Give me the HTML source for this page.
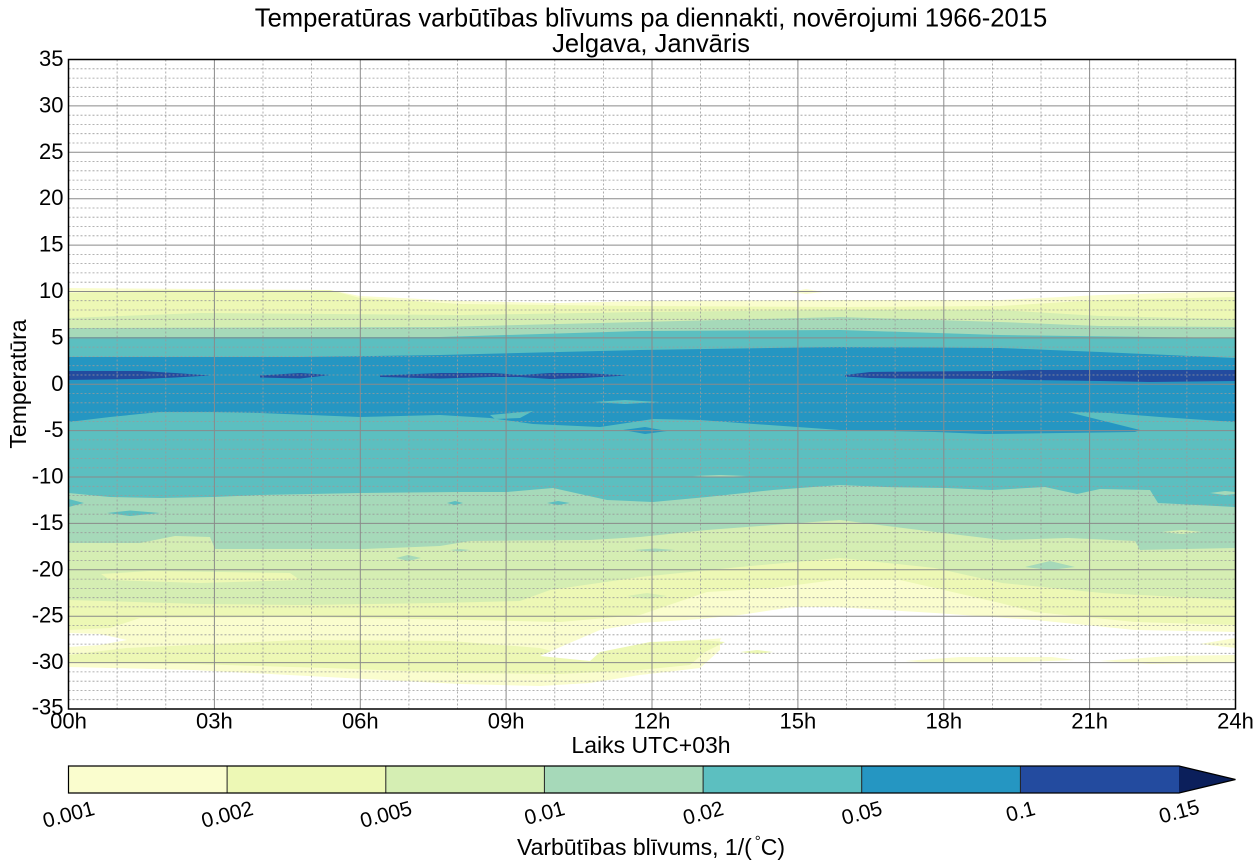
<!DOCTYPE html>
<html>
<head>
<meta charset="utf-8">
<style>
  html, body { margin: 0; padding: 0; background: #ffffff; }
  svg { display: block; }
  text { font-family: "Liberation Sans", Arial, sans-serif; fill: #000; }
</style>
</head>
<body>
<svg width="1260" height="868" viewBox="0 0 1260 868" xmlns="http://www.w3.org/2000/svg">
  <rect x="0" y="0" width="1260" height="868" fill="#ffffff"/>

  <!-- Title -->
  <text x="651" y="26.5" font-size="25.6" text-anchor="middle">Temperatūras varbūtības blīvums pa diennakti, novērojumi 1966-2015</text>
  <text x="651" y="52" font-size="25.6" text-anchor="middle">Jelgava, Janvāris</text>

  <!-- ===== Contour fills ===== -->
  <g stroke="none">
    <!-- c1 : 0.001 - 0.002 -->
    <polygon fill="#fafdce" points="68.5,288 200,289 330,290 360,296 460,301 560,303 640,301 840,300 1000,300 1100,295 1235.5,291 1235.5,632 1135,630 1035,620 935,613 835,607 793,607 740,615 720,640 720,650 700,668 640,675 590,683 540,686 460,684 327,677 193,670 68.5,667"/>
    <polygon fill="#fafdce" points="790,292 806,289 823,292 806,294"/>
    <!-- c2 lower band -->
    <polygon fill="#edf8b5" points="68.5,655 126,648 300,640 450,641 540,648 590,661 600,652 650,642 700,640 725,642 705,652 690,665 640,670 560,674 460,673 327,668 193,664 68.5,662"/>
    <!-- white pockets -->
    <polygon fill="#ffffff" points="540,656 565,645 600,630 640,623 700,619 740,615 725,638 700,640 650,642 600,652 590,661"/>
    <polygon fill="#ffffff" points="68.5,633 100,634 127,640 100,645 68.5,647"/>
    <!-- pale strips in lower white -->
    <polygon fill="#fafdce" points="905,661 960,657 1052,657 1075,660 1000,663 930,663"/>
    <polygon fill="#fafdce" points="1100,661 1170,656 1235.5,655 1235.5,663 1150,664"/>
    <polygon fill="#fafdce" points="1200,644 1235.5,638 1235.5,648"/>
    <polygon fill="#edf8b5" points="740,652 757,650 773,652 757,654"/>

    <!-- c2 main -->
    <polygon fill="#edf8b5" points="68.5,293 150,290 330,290 360,298 460,304 640,306 840,307 1000,306 1100,300 1235.5,297 1235.5,625 1135,622 1035,612 1000,603 935,588 900,580 835,580 773,588 707,592 640,615 560,622 470,620 300,617 140,618 110,628 68.5,630"/>

    <!-- c3 main -->
    <polygon fill="#d5eeb3" points="68.5,318 200,313 460,315 640,312 840,310 1000,310 1100,316 1235.5,319 1235.5,600 1102,593 1002,583 935,568 840,558 740,567 640,577 550,590 520,601 440,603 300,605 200,604 68.5,600"/>
    <polygon fill="#edf8b5" points="101,574 150,571 290,573 300,580 200,583 110,580"/>
    <polygon fill="#d5eeb3" points="627,596 647,593 667,596 647,599"/>

    <!-- c4 main -->
    <polygon fill="#a6d9b9" points="68.5,328 440,327 640,322 840,317 1000,322 1100,326 1235.5,327 1235.5,548 1140,550 1135,541 1068,538 1002,540 935,532 840,520 773,525 707,530 640,537 590,540 470,541 440,546 364,549 215,549 210,537 175,536 140,543 68.5,543"/>
    <polygon fill="#a6d9b9" points="1025,567 1050,561 1075,567 1050,570"/>
    <polygon fill="#a6d9b9" points="396,558 408,555 421,558 408,561"/>
    <polygon fill="#a6d9b9" points="450,550 460,549 470,550 460,551.5"/>
    <polygon fill="#a6d9b9" points="634,550 655,548.5 675,550 655,552"/>
    <polygon fill="#d5eeb3" points="1162,532 1182,530 1202,532 1182,534"/>

    <!-- c5 main -->
    <polygon fill="#5cbfc0" points="68.5,337 440,337 640,331 840,330 1000,335 1235.5,338 1235.5,507 1158,503 1150,490 1100,489 1077,494 1045,487 992,490 945,488 885,487 840,485 773,490 707,497 653,502 607,500 553,488 507,492 460,492 360,493 260,495 213,497 160,498 110,497 68.5,493"/>
    <polygon fill="#5cbfc0" points="68.5,499 84,503 68.5,507"/>
    <polygon fill="#5cbfc0" points="107,513 130,510.5 160,513 130,516"/>
    <polygon fill="#5cbfc0" points="447,503 455,501 463,503 455,505"/>
    <polygon fill="#5cbfc0" points="547,503 558,501 570,503 558,505"/>
    <polygon fill="#a6d9b9" points="1210,493 1225,491 1235.5,492 1235.5,494 1225,495"/>
    <polygon fill="#a6d9b9" points="693,476 720,475 747,476 720,477"/>

    <!-- c6 main -->
    <polygon fill="#2596c2" points="68.5,357 300,357 440,355 640,350 840,347 1000,348 1100,352 1235.5,358 1235.5,422 1160,417 1110,413 1068,412 1140,430 1135,432 985,434 935,432 840,430 740,423 700,420 653,419 600,427 533,424 490,418 440,415 360,417 260,413 210,412 160,412 110,417 68.5,422"/>
    <polygon fill="#5cbfc0" points="593,402 625,400 660,402 625,404"/>
    <polygon fill="#5cbfc0" points="490,415 533,411 520,418 495,419"/>
    <polygon fill="#2596c2" points="623,430 645,427 667,431 645,434"/>

    <!-- c7 dark band -->
    <polygon fill="#234b9f" points="68.5,371 140,371 175,373 210,375.5 175,377.5 140,379 68.5,380"/>
    <polygon fill="#234b9f" points="260,375.5 300,373 330,375 300,378.5 260,377.5"/>
    <polygon fill="#234b9f" points="380,375.5 440,373 493,373 520,375 550,373 583,373 627,375.5 583,378 550,379 520,377 493,377 440,378.5 380,377"/>
    <polygon fill="#234b9f" points="845,375 870,372 920,371.5 1000,371 1030,370 1100,370 1235.5,370 1235.5,381 1150,382 1100,381 1030,380 1000,379 900,378.5 870,378 845,376.5"/>
  </g>

  <!-- ===== Grid ===== -->
  <path fill="none" stroke="#9a9a9a" stroke-width="0.8" stroke-dasharray="2,2"
    d="M68.5,68.8H1235.5 M68.5,78.1H1235.5 M68.5,87.3H1235.5 M68.5,96.6H1235.5
       M68.5,115.2H1235.5 M68.5,124.5H1235.5 M68.5,133.7H1235.5 M68.5,143.0H1235.5
       M68.5,161.6H1235.5 M68.5,170.8H1235.5 M68.5,180.1H1235.5 M68.5,189.4H1235.5
       M68.5,208.0H1235.5 M68.5,217.2H1235.5 M68.5,226.5H1235.5 M68.5,235.8H1235.5
       M68.5,254.4H1235.5 M68.5,263.6H1235.5 M68.5,272.9H1235.5 M68.5,282.2H1235.5
       M68.5,300.7H1235.5 M68.5,310.0H1235.5 M68.5,319.3H1235.5 M68.5,328.6H1235.5
       M68.5,347.1H1235.5 M68.5,356.4H1235.5 M68.5,365.7H1235.5 M68.5,375.0H1235.5
       M68.5,393.5H1235.5 M68.5,402.8H1235.5 M68.5,412.1H1235.5 M68.5,421.4H1235.5
       M68.5,439.9H1235.5 M68.5,449.2H1235.5 M68.5,458.5H1235.5 M68.5,467.8H1235.5
       M68.5,486.3H1235.5 M68.5,495.6H1235.5 M68.5,504.9H1235.5 M68.5,514.2H1235.5
       M68.5,532.7H1235.5 M68.5,542.0H1235.5 M68.5,551.3H1235.5 M68.5,560.5H1235.5
       M68.5,579.1H1235.5 M68.5,588.4H1235.5 M68.5,597.7H1235.5 M68.5,606.9H1235.5
       M68.5,625.5H1235.5 M68.5,634.8H1235.5 M68.5,644.1H1235.5 M68.5,653.3H1235.5
       M68.5,671.9H1235.5 M68.5,681.2H1235.5 M68.5,690.4H1235.5 M68.5,699.7H1235.5"/>
  <path fill="none" stroke="#9a9a9a" stroke-width="0.8" stroke-dasharray="2,2"
    d="M117.1,59.5V709 M165.8,59.5V709 M263.0,59.5V709 M311.6,59.5V709
       M408.9,59.5V709 M457.5,59.5V709 M554.8,59.5V709 M603.4,59.5V709
       M700.6,59.5V709 M749.3,59.5V709 M846.5,59.5V709 M895.1,59.5V709
       M992.4,59.5V709 M1041.0,59.5V709 M1138.3,59.5V709 M1186.9,59.5V709"/>
  <path fill="none" stroke="#8a8a8a" stroke-width="1"
    d="M68.5,105.9H1235.5 M68.5,152.3H1235.5 M68.5,198.7H1235.5 M68.5,245.1H1235.5
       M68.5,291.5H1235.5 M68.5,337.9H1235.5 M68.5,384.3H1235.5 M68.5,430.6H1235.5
       M68.5,477.0H1235.5 M68.5,523.4H1235.5 M68.5,569.8H1235.5 M68.5,616.2H1235.5
       M68.5,662.6H1235.5
       M214.4,59.5V709 M360.3,59.5V709 M506.1,59.5V709 M652.0,59.5V709
       M797.9,59.5V709 M943.8,59.5V709 M1089.6,59.5V709"/>

  <!-- Axes frame -->
  <rect x="68.5" y="59.5" width="1167" height="649.5" fill="none" stroke="#000" stroke-width="1.5"/>

  <!-- Y tick labels -->
  <g font-size="22" text-anchor="end">
    <text x="63.5" y="66">35</text>
    <text x="63.5" y="112.4">30</text>
    <text x="63.5" y="158.8">25</text>
    <text x="63.5" y="205.2">20</text>
    <text x="63.5" y="251.6">15</text>
    <text x="63.5" y="298">10</text>
    <text x="63.5" y="344.4">5</text>
    <text x="63.5" y="390.8">0</text>
    <text x="63.5" y="437.1">-5</text>
    <text x="63.5" y="483.5">-10</text>
    <text x="63.5" y="529.9">-15</text>
    <text x="63.5" y="576.3">-20</text>
    <text x="63.5" y="622.7">-25</text>
    <text x="63.5" y="669.1">-30</text>
    <text x="63.5" y="714.5">-35</text>
  </g>

  <!-- X tick labels -->
  <g font-size="22" text-anchor="middle">
    <text x="68.5" y="728.5">00h</text>
    <text x="214.4" y="728.5">03h</text>
    <text x="360.3" y="728.5">06h</text>
    <text x="506.1" y="728.5">09h</text>
    <text x="652.0" y="728.5">12h</text>
    <text x="797.9" y="728.5">15h</text>
    <text x="943.8" y="728.5">18h</text>
    <text x="1089.6" y="728.5">21h</text>
    <text x="1235.5" y="728.5">24h</text>
  </g>

  <!-- Axis labels -->
  <text x="651" y="753" font-size="23" text-anchor="middle">Laiks UTC+03h</text>
  <text transform="translate(26,384) rotate(-90)" x="0" y="0" font-size="23" text-anchor="middle">Temperatūra</text>

  <!-- ===== Colorbar ===== -->
  <g>
    <rect x="68.5" y="766" width="158.6" height="27" fill="#fafdce"/>
    <rect x="227.1" y="766" width="158.7" height="27" fill="#edf8b5"/>
    <rect x="385.8" y="766" width="158.6" height="27" fill="#d5eeb3"/>
    <rect x="544.4" y="766" width="158.7" height="27" fill="#a6d9b9"/>
    <rect x="703.1" y="766" width="158.6" height="27" fill="#5cbfc0"/>
    <rect x="861.7" y="766" width="158.7" height="27" fill="#2596c2"/>
    <rect x="1020.4" y="766" width="158.6" height="27" fill="#234b9f"/>
    <polygon points="1179,766 1235.5,779.5 1179,793" fill="#0b1f5b"/>
    <path fill="none" stroke="#222" stroke-width="1"
      d="M227.1,766V793 M385.8,766V793 M544.4,766V793 M703.1,766V793 M861.7,766V793 M1020.4,766V793"/>
    <path fill="none" stroke="#000" stroke-width="1.2"
      d="M1179,766 H68.5 V793 H1179 L1235.5,779.5 Z"/>
  </g>

  <!-- Colorbar tick labels (rotated) -->
  <g font-size="21" text-anchor="middle">
    <text transform="translate(68.5,814) rotate(-15)" x="0" y="7.5">0.001</text>
    <text transform="translate(227.1,814) rotate(-15)" x="0" y="7.5">0.002</text>
    <text transform="translate(385.8,814) rotate(-15)" x="0" y="7.5">0.005</text>
    <text transform="translate(544.4,812.5) rotate(-15)" x="0" y="7.5">0.01</text>
    <text transform="translate(703.1,812.5) rotate(-15)" x="0" y="7.5">0.02</text>
    <text transform="translate(861.7,812.5) rotate(-15)" x="0" y="7.5">0.05</text>
    <text transform="translate(1020.4,811) rotate(-15)" x="0" y="7.5">0.1</text>
    <text transform="translate(1179,811) rotate(-15)" x="0" y="7.5">0.15</text>
  </g>

  <!-- Colorbar label -->
  <text x="651" y="855" font-size="23" text-anchor="middle">Varbūtības blīvums, 1/(<tspan dx="3" dy="-9" font-size="15">°</tspan><tspan dy="9">C)</tspan></text>
</svg>
</body>
</html>
